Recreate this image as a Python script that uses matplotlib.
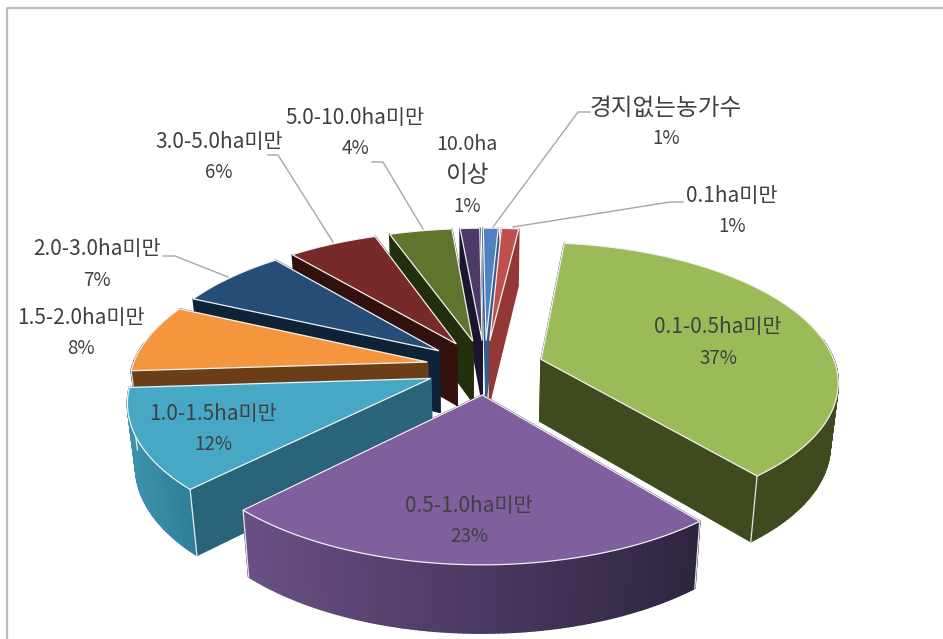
import numpy as np
import matplotlib
matplotlib.use("Agg")
import matplotlib.pyplot as plt
from matplotlib.patches import Polygon
from matplotlib.colors import to_rgb

plt.rcParams['font.family'] = ['Noto Sans CJK KR', 'DejaVu Sans']

# ---- data ----
categories = ['0.1ha미만', '0.1-0.5ha미만', '0.5-1.0ha미만', '1.0-1.5ha미만', '1.5-2.0ha미만',
              '2.0-3.0ha미만', '3.0-5.0ha미만', '5.0-10.0ha미만', '10.0ha\n이상', '경지없는농가수']
values = [1.1, 37.2, 23.3, 11.6, 7.9, 7.0, 5.7, 4.0, 1.25, 0.95]

# ---- style ----
top_cols = ['#C0504D', '#9BBB59', '#7F5F9E', '#47A8C5', '#F5963F', '#264D78', '#772A28', '#5F752D', '#4D3A66', '#4F81BD']
cut_cols = ['#953735', '#3F4A1F', '#2E2540', '#2A6478', '#6B3E17', '#0E2238', '#31100E', '#232E0C', '#1D1530', '#2F5F95']
rim_a = ['#953735', '#3F4A1F', '#6A5085', '#3F93AE', '#6B3E17', '#0E2238', '#31100E', '#232E0C', '#1D1530', '#2F5F95']
rim_b = ['#953735', '#3F4A1F', '#2E2540', '#2F7F9A', '#6B3E17', '#0E2238', '#31100E', '#232E0C', '#1D1530', '#2F5F95']
draw_order = [9, 8, 0, 7, 6, 5, 4, 3, 1, 2]

CX, CY, R, RV, K, EXPL, DEPTH, START, TAPER = 485, 367, 295, 136, 0.146, 0.2, 62, 2.8, 0.023

# label layout: (centre x, first line y, line gap)
label_pos = [(732, 196, 31), (718, 327, 31), (469, 506, 30), (213, 414, 30), (81, 318, 31),
             (97, 249, 31), (219, 142, 30), (355, 118, 30), (467, 144, 31), (666, 108, 30)]
leaders = {0: [(683, 202), (670, 202), (513, 227)],
           9: [(590, 112), (578, 112), (493, 227)],
           7: [(372, 162), (383, 162), (423, 229)],
           6: [(268, 155), (278, 155), (333, 242)],
           5: [(163, 256), (175, 256), (228, 277)]}


def project(u, v, lower=False):
    p = 1.0 / (1.0 + K * v)
    x = CX + R * u * p
    y = CY - RV * v * p
    if lower:
        y = y + DEPTH * np.sqrt(p)
        x = x + (CX - x) * TAPER
    return x, y


def mix(a, b, t):
    a, b = np.array(to_rgb(a)), np.array(to_rgb(b))
    return tuple(a + (b - a) * t)


fig = plt.figure(figsize=(9.43, 6.39), dpi=100, facecolor='white')
ax = fig.add_axes([0, 0, 1, 1])
ax.set_xlim(0, 943)
ax.set_ylim(639, 0)
ax.axis('off')

ax.plot([943, 6.5, 6.5], [7.5, 7.5, 639], color='#BDBDBD', lw=1.6, zorder=1)

cum = np.cumsum([0] + values) / sum(values) * 360 + START

z = 2.0
for i in draw_order:
    a0, a1 = np.radians(cum[i]), np.radians(cum[i + 1])
    mid = (a0 + a1) / 2
    ou, ov = EXPL * np.sin(mid), EXPL * np.cos(mid)
    th = np.linspace(a0, a1, max(8, int(values[i] * 5)))
    us, vs = ou + np.sin(th), ov + np.cos(th)
    quads = []
    # radial walls
    for (eu, ev) in [(us[0], vs[0]), (us[-1], vs[-1])]:
        tu = np.array([ou, eu])
        tv = np.array([ov, ev])
        xt, yt = project(tu, tv)
        xb, yb = project(tu, tv, True)
        poly = [(xt[0], yt[0]), (xt[1], yt[1]), (xb[1], yb[1]), (xb[0], yb[0])]
        quads.append((np.mean(yt), poly, cut_cols[i], True))
    # rim wall
    xt, yt = project(us, vs)
    xb, yb = project(us, vs, True)
    for j in range(len(th) - 1):
        if np.cos((th[j] + th[j + 1]) / 2) > 0.15:
            continue
        t = (xt[j] - xt.min()) / max(1, xt.max() - xt.min())
        col = mix(rim_a[i], rim_b[i], t)
        poly = [(xt[j], yt[j]), (xt[j + 1], yt[j + 1]), (xb[j + 1], yb[j + 1]), (xb[j], yb[j])]
        quads.append((yt[j] + 1000, poly, col, False))
    for _, poly, col, edge in sorted(quads, key=lambda q: q[0]):
        ax.add_patch(Polygon(poly, closed=True, facecolor=col, edgecolor=col, lw=1.2,
                             joinstyle='round', zorder=z))
        z += 0.001
    # white corners where walls meet
    for k in (0, -1):
        if np.cos(th[k]) < 0.3:
            ax.plot([xt[k], xb[k]], [yt[k], yb[k]], color='#E8E8E8', lw=0.9, zorder=z)
    z += 0.01
    # top face
    ax_, ay_ = project(np.array([ou]), np.array([ov]))
    px = np.concatenate([ax_, xt])
    py = np.concatenate([ay_, yt])
    ax.add_patch(Polygon(np.column_stack([px, py]), closed=True, facecolor=top_cols[i],
                         edgecolor='#F2F2F2', lw=0.9, zorder=z))
    z += 0.01

for idx, pts in leaders.items():
    xs, ys = zip(*pts)
    ax.plot(xs, ys, color='#A6A6A6', lw=1.0, zorder=50)

for i, (lab, v) in enumerate(zip(categories, values)):
    x, y, gap = label_pos[i]
    lines = lab.split('\n') + [f'{v:.0f}%']
    for n, line in enumerate(lines):
        if line.endswith('%'):
            fs = 13.5
        elif line == '10.0ha':
            fs = 14.2
        elif 'ha' in line:
            fs = 15
        else:
            fs = 17
        ax.text(x, y + n * gap, line, ha='center', va='center', fontsize=fs,
                color='#404040', zorder=60)

fig.savefig('out.png', dpi=100, facecolor='white')
